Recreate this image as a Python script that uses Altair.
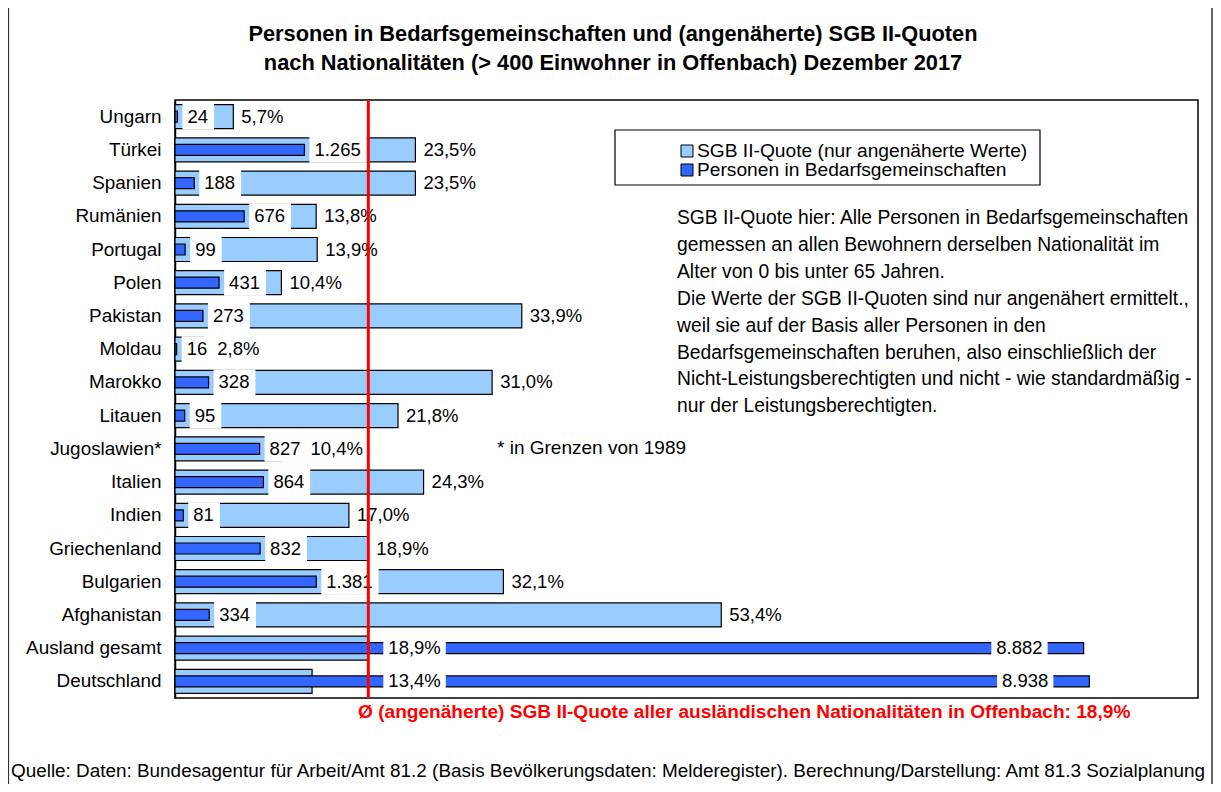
import altair as alt
import pandas as pd

# ---------------- data ----------------
countries = ["Ungarn", "Türkei", "Spanien", "Rumänien", "Portugal", "Polen", "Pakistan",
             "Moldau", "Marokko", "Litauen", "Jugoslawien*", "Italien", "Indien",
             "Griechenland", "Bulgarien", "Afghanistan", "Ausland gesamt", "Deutschland"]
persons = [24, 1265, 188, 676, 99, 431, 273, 16, 328, 95, 827, 864, 81, 832, 1381, 334, 8882, 8938]
quote = [5.7, 23.5, 23.5, 13.8, 13.9, 10.4, 33.9, 2.8, 31.0, 21.8, 10.4, 24.3, 17.0, 18.9,
         32.1, 53.4, 18.9, 13.4]
avg_quote = 18.9
total_rows = ["Ausland gesamt", "Deutschland"]
series_names = ["SGB II-Quote (nur angenäherte Werte)", "Personen in Bedarfsgemeinschaften"]

title_lines = ["Personen in Bedarfsgemeinschaften und (angenäherte) SGB II-Quoten",
               "nach Nationalitäten (> 400 Einwohner in Offenbach) Dezember 2017"]
note_lines = ["SGB II-Quote hier: Alle Personen in Bedarfsgemeinschaften",
              "gemessen an allen Bewohnern derselben Nationalität im",
              "Alter von 0 bis unter 65 Jahren.",
              "Die Werte der SGB II-Quoten sind nur angenähert ermittelt.,",
              "weil sie auf der Basis aller Personen in den",
              "Bedarfsgemeinschaften beruhen, also einschließlich der",
              "Nicht-Leistungsberechtigten und nicht - wie standardmäßig -",
              "nur der Leistungsberechtigten."]
footnote = "* in Grenzen von 1989"
avg_label = "Ø (angenäherte) SGB II-Quote aller ausländischen Nationalitäten in Offenbach: 18,9%"
source = ("Quelle: Daten: Bundesagentur für Arbeit/Amt 81.2 (Basis Bevölkerungsdaten: Melderegister). "
          "Berechnung/Darstellung: Amt 81.3 Sozialplanung")

# ---------------- layout / style ----------------
W, H = 1023, 598
QMAX, PMAX = 100, 10000
FONT = "Liberation Sans, Arial, sans-serif"
FS = 18.5
LIGHT, DARK = "#99CCFF", "#3366FF"

CW = {c: 0.556 for c in "0123456789"}
CW.update({".": 0.278, ",": 0.278, "%": 0.889})


def tw(s, size):
    return sum(CW.get(c, 0.556) for c in s) * size


def fmt_p(v):
    return f"{v:,}".replace(",", ".")


def fmt_q(v):
    return f"{v:.1f}".replace(".", ",") + "%"


qpx = W / QMAX
ppx = W / PMAX

rows = []
for c, p, q in zip(countries, persons, quote):
    pl, ql = fmt_p(p), fmt_q(q)
    pw, qw = tw(pl, FS), tw(ql, FS)
    tot = c in total_rows
    pe, qe = p * ppx, q * qpx
    if not tot:
        p_text = pe + 10
        p_b0, p_b1 = pe + 5, p_text + pw + 6
        q_text = max(qe + 8, p_b1 + 4)
        q_b0, q_b1 = q_text, q_text
    else:
        p_text = pe - 41
        p_b0, p_b1 = p_text - pw - 5, pe - 36
        q_text = avg_quote * qpx + 20
        q_b0, q_b1 = q_text - 5, q_text + qw + 5
    rows.append(dict(country=c, persons=p, quote=q, p_label=pl, q_label=ql, total=tot,
                     p_text=p_text / ppx, p_b0=p_b0 / ppx, p_b1=p_b1 / ppx,
                     q_text=q_text / qpx, q_b0=q_b0 / qpx, q_b1=q_b1 / qpx))
df = pd.DataFrame(rows)

yenc = alt.Y("country:N", sort=countries,
             scale=alt.Scale(paddingInner=0, paddingOuter=0),
             axis=alt.Axis(title=None, ticks=False, labelFont=FONT, labelFontSize=18.9,
                           labelColor="black", labelPadding=14, domainColor="black",
                           domainWidth=1.5, labelLimit=400, grid=False))


def xq(f):
    return alt.X(f"{f}:Q", scale=alt.Scale(domain=[0, QMAX], nice=False), axis=None)


def xp(f):
    return alt.X(f"{f}:Q", scale=alt.Scale(domain=[0, PMAX], nice=False), axis=None)


base = alt.Chart(df)

light = base.mark_bar(size=24, fill=LIGHT, stroke="black", strokeWidth=1.2).encode(
    x=xq("quote"), y=yenc)
dark = base.mark_bar(size=11, fill=DARK, stroke="black", strokeWidth=1.2).encode(
    x=xp("persons"), y=yenc)

p_box = base.mark_bar(size=26, fill="white").encode(x=xp("p_b0"), x2="p_b1", y=yenc)
p_txt_n = base.transform_filter("!datum.total").mark_text(
    align="left", baseline="middle", font=FONT, fontSize=FS, color="black").encode(
    x=xp("p_text"), y=yenc, text="p_label:N")
p_txt_t = base.transform_filter("datum.total").mark_text(
    align="right", baseline="middle", font=FONT, fontSize=FS, color="black").encode(
    x=xp("p_text"), y=yenc, text="p_label:N")

q_box = base.transform_filter("datum.total").mark_bar(size=24, fill="white").encode(
    x=xq("q_b0"), x2="q_b1", y=yenc)
q_txt = base.mark_text(align="left", baseline="middle", font=FONT, fontSize=FS,
                       color="black").encode(x=xq("q_text"), y=yenc, text="q_label:N")

red = alt.Chart(pd.DataFrame({"avg": [avg_quote]})).mark_rule(
    color="#FF0000", strokeWidth=3).encode(x=xq("avg"))

one = pd.DataFrame({"i": [0]})

title = alt.Chart(one).mark_text(
    text=title_lines, align="center", baseline="top", font=FONT, fontSize=21.8,
    fontWeight="bold", color="black", lineHeight=29).encode(
    x=alt.value(438), y=alt.value(-76))

note = alt.Chart(one).mark_text(
    text=note_lines, align="left", baseline="top", font=FONT, fontSize=19.3,
    color="black", lineHeight=26.9).encode(x=alt.value(502), y=alt.value(109))

foot = alt.Chart(one).mark_text(
    text=footnote, align="left", baseline="middle", font=FONT, fontSize=19,
    color="black").encode(x=alt.value(322), y=alt.value(348))

avg_txt = alt.Chart(one).mark_text(
    text=avg_label, align="left", baseline="middle", font=FONT, fontSize=19.1,
    fontWeight="bold", color="#FF0000").encode(x=alt.value(183), y=alt.value(612))

src = alt.Chart(one).mark_text(
    text=source, align="left", baseline="middle", font=FONT, fontSize=18.9,
    color="black").encode(x=alt.value(-164), y=alt.value(671))

# legend (drawn)
leg_box = alt.Chart(one).mark_rect(fill="white", stroke="black", strokeWidth=1.2).encode(
    x=alt.value(440), x2=alt.value(865), y=alt.value(30), y2=alt.value(85))
leg_sq1 = alt.Chart(one).mark_rect(fill=LIGHT, stroke="black", strokeWidth=1).encode(
    x=alt.value(506), x2=alt.value(518), y=alt.value(45), y2=alt.value(57))
leg_sq2 = alt.Chart(one).mark_rect(fill=DARK, stroke="black", strokeWidth=1).encode(
    x=alt.value(506), x2=alt.value(518), y=alt.value(64), y2=alt.value(76))
leg_t1 = alt.Chart(one).mark_text(
    text=series_names[0], align="left", baseline="middle", font=FONT, fontSize=19.2,
    color="black").encode(x=alt.value(522), y=alt.value(51))
leg_t2 = alt.Chart(one).mark_text(
    text=series_names[1], align="left", baseline="middle", font=FONT, fontSize=19.2,
    color="black").encode(x=alt.value(522), y=alt.value(70))

frame_l = alt.Chart(one).mark_rule(color="#333", strokeWidth=1.2).encode(
    x=alt.value(-166.5), y=alt.value(-92), y2=alt.value(684))
frame_r = alt.Chart(one).mark_rule(color="#333", strokeWidth=1.5).encode(
    x=alt.value(1037), y=alt.value(-92), y2=alt.value(684))

chart = alt.layer(
    light, dark, p_box, p_txt_n, p_txt_t, q_box, q_txt, red,
    title, note, foot, avg_txt, src,
    leg_box, leg_sq1, leg_sq2, leg_t1, leg_t2, frame_l, frame_r
).resolve_scale(x="independent").properties(
    width=W, height=H,
    autosize=alt.AutoSizeParams(type="none"),
    padding={"left": 167, "top": 92, "right": 15, "bottom": 86},
    background="white",
).configure_view(stroke="black", strokeWidth=1.5)

chart.save("out.html", embed_options={"renderer": "svg", "actions": False})
